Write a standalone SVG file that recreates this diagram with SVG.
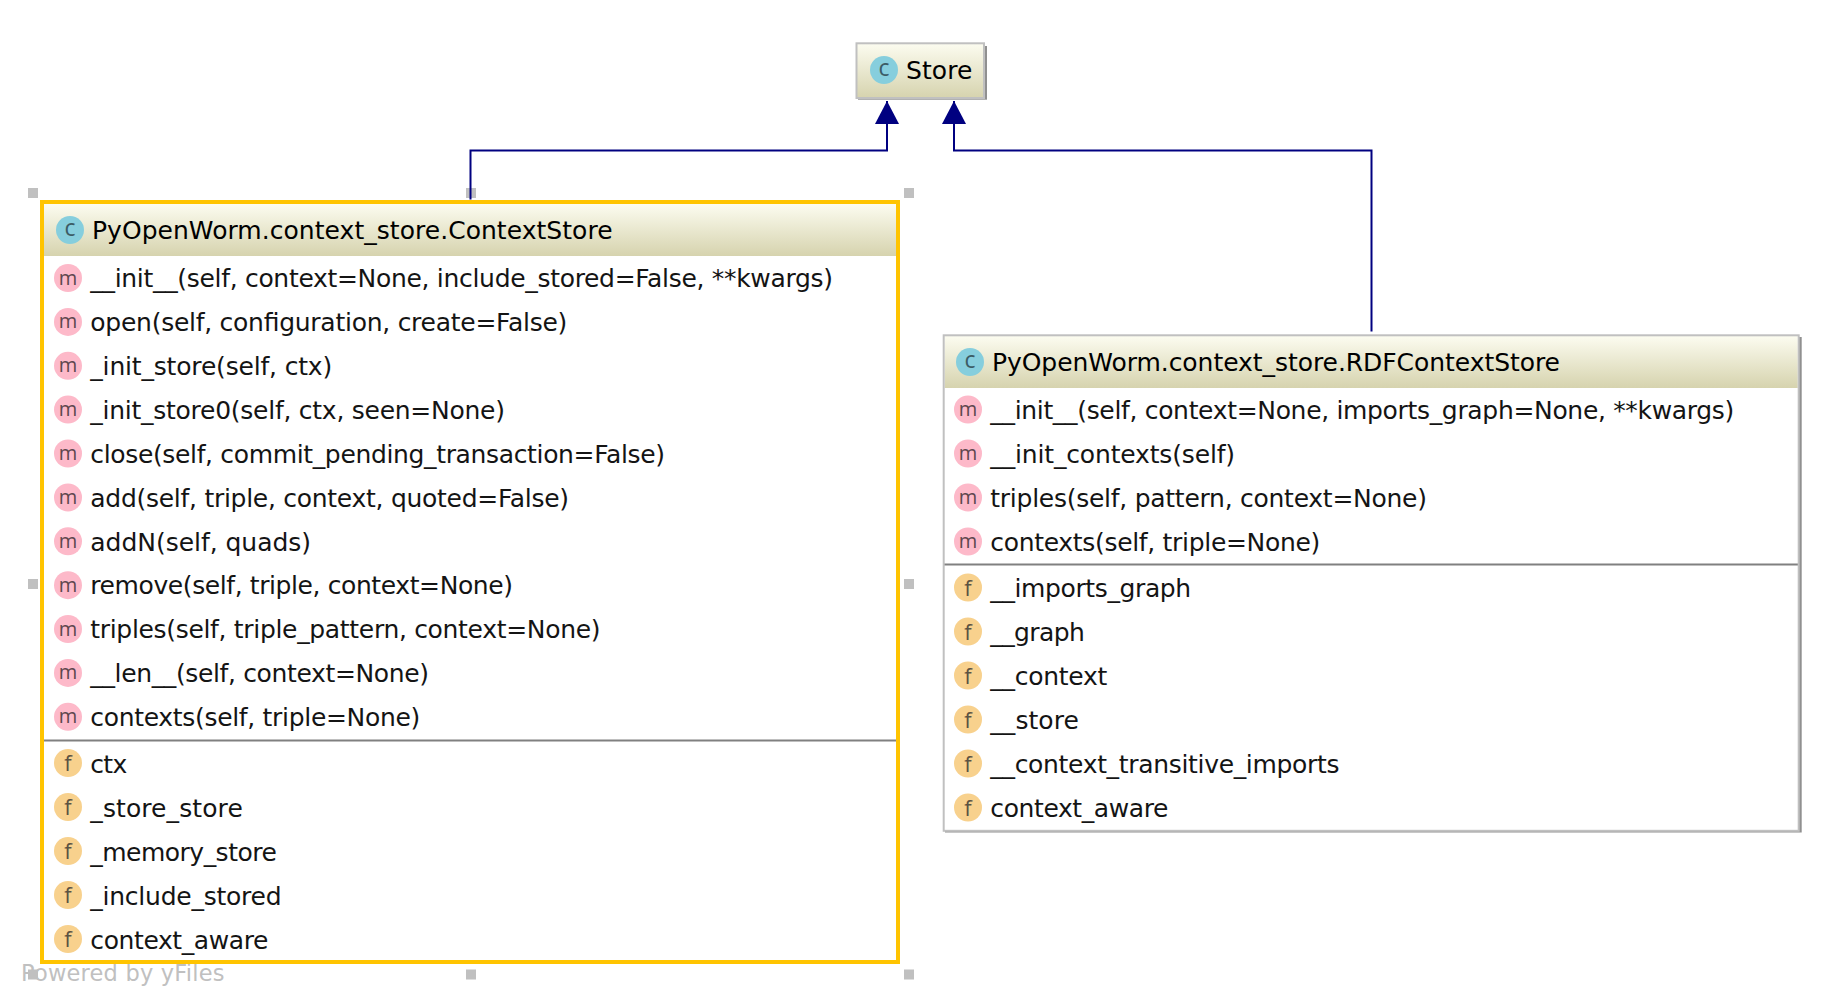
<svg xmlns="http://www.w3.org/2000/svg" width="1842" height="1006" viewBox="0 0 1842 1006">
<style>
text{font-family:"DejaVu Sans","Liberation Sans",sans-serif;fill:#141414}
.t{font-size:25px}
.h{font-size:25px;fill:#000}
.ic{font-size:20px;text-anchor:middle;font-family:"Open Sans","DejaVu Sans",sans-serif}
.cl{font-size:23px;fill:#3c5c66}.ml{fill:#5e474e}.fl{font-size:22px;fill:#5c5242}
.cc{fill:#86cedd}.mc{fill:#fdb9c9}.fc{fill:#f8d18d}
.hd{fill:#c0c0c0}
.wm{font-size:22.5px;fill:#c0c0c0}
.edge{fill:none;stroke:#000080;stroke-width:2}
.sh{fill:#909090}
.bd{fill:none;stroke:#c0c0c0;stroke-width:2}
.dv{fill:#808080}
</style>
<defs>
<linearGradient id="hg" x1="0" y1="0" x2="0" y2="1"><stop offset="0" stop-color="#fcfcf0"/><stop offset="1" stop-color="#d6d3ae"/></linearGradient>
<marker id="tri" markerUnits="userSpaceOnUse" markerWidth="24" markerHeight="24" refX="23" refY="12" orient="auto"><path d="M0 0L23 12L0 24z" fill="#000080"/></marker>
</defs>
<rect width="1842" height="1006" fill="#fff"/>
<g id="handles">
<rect class="hd" x="28" y="188" width="10" height="10"/><rect class="hd" x="466" y="188" width="10" height="10"/><rect class="hd" x="904" y="188" width="10" height="10"/>
<rect class="hd" x="28" y="579" width="10" height="10"/><rect class="hd" x="904" y="579" width="10" height="10"/>
<rect class="hd" x="466" y="969.5" width="10" height="10"/><rect class="hd" x="904" y="969.5" width="10" height="10"/>
</g>
<text class="wm" x="21" y="980.5" textLength="203.5">Powered by yFiles</text>
<rect class="hd" x="28" y="969.5" width="10" height="10"/>
<g id="connectors">
<path class="edge" d="M470.5 199.5V150.5H887V101" marker-end="url(#tri)"/>
<path class="edge" d="M1371.5 331.5V150.5H954V101" marker-end="url(#tri)"/>
</g>
<g id="store">
<rect class="sh" x="858" y="46" width="129" height="53.7"/>
<rect x="856.5" y="43.3" width="127.5" height="54.7" fill="url(#hg)"/>
<rect class="bd" x="856.5" y="43.3" width="127.5" height="54.7"/>
<circle class="cc" cx="884" cy="70" r="14"/><text class="ic cl" x="884" y="75.5">c</text>
<text class="h" x="906" y="79" textLength="66.4">Store</text>
</g>
<g id="context-store">
<rect x="42" y="202" width="856" height="760" fill="#fff"/>
<rect x="44" y="204" width="852" height="52" fill="url(#hg)"/>
<rect class="dv" x="44" y="739.5" width="852" height="2"/>
<rect x="42" y="202" width="856" height="760" fill="none" stroke="#ffc400" stroke-width="4"/>
<circle class="cc" cx="70" cy="230" r="14"/><text class="ic cl" x="70" y="235.5">c</text>
<text class="h" x="92" y="239" textLength="520.6">PyOpenWorm.context_store.ContextStore</text>
<circle class="mc" cx="68" cy="278" r="14"/><text class="ic ml" x="68" y="284.5">m</text><text class="t" x="90.3" y="287.2" textLength="742.7">__init__(self, context=None, include_stored=False, **kwargs)</text>
<circle class="mc" cx="68" cy="321.9" r="14"/><text class="ic ml" x="68" y="328.4">m</text><text class="t" x="90.3" y="331.1" textLength="477">open(self, configuration, create=False)</text>
<circle class="mc" cx="68" cy="365.8" r="14"/><text class="ic ml" x="68" y="372.3">m</text><text class="t" x="90.3" y="375" textLength="241.9">_init_store(self, ctx)</text>
<circle class="mc" cx="68" cy="409.6" r="14"/><text class="ic ml" x="68" y="416.1">m</text><text class="t" x="90.3" y="418.8" textLength="414.7">_init_store0(self, ctx, seen=None)</text>
<circle class="mc" cx="68" cy="453.5" r="14"/><text class="ic ml" x="68" y="460">m</text><text class="t" x="90.3" y="462.7" textLength="574.7">close(self, commit_pending_transaction=False)</text>
<circle class="mc" cx="68" cy="497.4" r="14"/><text class="ic ml" x="68" y="503.9">m</text><text class="t" x="90.3" y="506.6" textLength="478.8">add(self, triple, context, quoted=False)</text>
<circle class="mc" cx="68" cy="541.3" r="14"/><text class="ic ml" x="68" y="547.8">m</text><text class="t" x="90.3" y="550.5" textLength="220.7">addN(self, quads)</text>
<circle class="mc" cx="68" cy="585.2" r="14"/><text class="ic ml" x="68" y="591.7">m</text><text class="t" x="90.3" y="594.4" textLength="422.7">remove(self, triple, context=None)</text>
<circle class="mc" cx="68" cy="629" r="14"/><text class="ic ml" x="68" y="635.5">m</text><text class="t" x="90.3" y="638.2" textLength="510.2">triples(self, triple_pattern, context=None)</text>
<circle class="mc" cx="68" cy="672.9" r="14"/><text class="ic ml" x="68" y="679.4">m</text><text class="t" x="90.3" y="682.1" textLength="338.7">__len__(self, context=None)</text>
<circle class="mc" cx="68" cy="716.8" r="14"/><text class="ic ml" x="68" y="723.3">m</text><text class="t" x="90.3" y="726" textLength="330">contexts(self, triple=None)</text>
<circle class="fc" cx="68" cy="763" r="14"/><text class="ic fl" x="68" y="771">f</text><text class="t" x="90.3" y="772.5" textLength="36.9">ctx</text>
<circle class="fc" cx="68" cy="807" r="14"/><text class="ic fl" x="68" y="815">f</text><text class="t" x="90.3" y="816.5" textLength="152.5">_store_store</text>
<circle class="fc" cx="68" cy="851" r="14"/><text class="ic fl" x="68" y="859">f</text><text class="t" x="90.3" y="860.5" textLength="186.5">_memory_store</text>
<circle class="fc" cx="68" cy="895" r="14"/><text class="ic fl" x="68" y="903">f</text><text class="t" x="90.3" y="904.5" textLength="191.2">_include_stored</text>
<circle class="fc" cx="68" cy="939" r="14"/><text class="ic fl" x="68" y="947">f</text><text class="t" x="90.3" y="948.5" textLength="178.2">context_aware</text>
</g>
<g id="rdf-context-store">
<rect class="sh" x="945" y="337" width="856.7" height="495.5"/>
<rect x="943.7" y="335.3" width="855" height="495.5" fill="#fff"/>
<rect x="944.7" y="336" width="853" height="52" fill="url(#hg)"/>
<rect class="dv" x="944" y="563.5" width="854" height="2"/>
<rect class="bd" x="943.7" y="335.3" width="855" height="495.5"/>
<circle class="cc" cx="970" cy="362" r="14"/><text class="ic cl" x="970" y="367.5">c</text>
<text class="h" x="992" y="371" textLength="568">PyOpenWorm.context_store.RDFContextStore</text>
<circle class="mc" cx="968" cy="409.5" r="14"/><text class="ic ml" x="968" y="416">m</text><text class="t" x="990.3" y="418.7" textLength="744">__init__(self, context=None, imports_graph=None, **kwargs)</text>
<circle class="mc" cx="968" cy="453.5" r="14"/><text class="ic ml" x="968" y="460">m</text><text class="t" x="990.3" y="462.7" textLength="244.8">__init_contexts(self)</text>
<circle class="mc" cx="968" cy="497.5" r="14"/><text class="ic ml" x="968" y="504">m</text><text class="t" x="990.3" y="506.7" textLength="436.7">triples(self, pattern, context=None)</text>
<circle class="mc" cx="968" cy="541.5" r="14"/><text class="ic ml" x="968" y="548">m</text><text class="t" x="990.3" y="550.7" textLength="330">contexts(self, triple=None)</text>
<circle class="fc" cx="968" cy="587.5" r="14"/><text class="ic fl" x="968" y="595.5">f</text><text class="t" x="990.3" y="597" textLength="200.9">__imports_graph</text>
<circle class="fc" cx="968" cy="631.5" r="14"/><text class="ic fl" x="968" y="639.5">f</text><text class="t" x="990.3" y="641" textLength="94.5">__graph</text>
<circle class="fc" cx="968" cy="675.5" r="14"/><text class="ic fl" x="968" y="683.5">f</text><text class="t" x="990.3" y="685" textLength="116.9">__context</text>
<circle class="fc" cx="968" cy="719.5" r="14"/><text class="ic fl" x="968" y="727.5">f</text><text class="t" x="990.3" y="729" textLength="88.5">__store</text>
<circle class="fc" cx="968" cy="763.5" r="14"/><text class="ic fl" x="968" y="771.5">f</text><text class="t" x="990.3" y="773" textLength="349.2">__context_transitive_imports</text>
<circle class="fc" cx="968" cy="807.5" r="14"/><text class="ic fl" x="968" y="815.5">f</text><text class="t" x="990.3" y="817" textLength="178.2">context_aware</text>
</g>
</svg>
